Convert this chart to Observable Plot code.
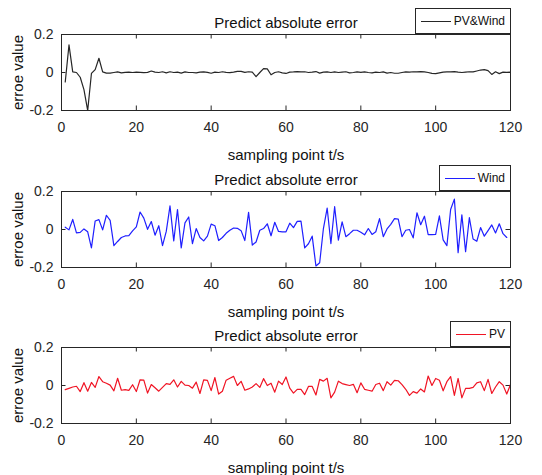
<!DOCTYPE html>
<html>
<head>
<meta charset="utf-8">
<script src="https://cdn.jsdelivr.net/npm/d3@7"></script>
<script src="https://cdn.jsdelivr.net/npm/@observablehq/plot@0.6"></script>
<style>
  html, body { margin: 0; padding: 0; background: #fff; }
  #root { position: relative; width: 542px; height: 475px; background: #fff; overflow: hidden;
          font-family: "Liberation Sans", Arial, Helvetica, sans-serif; }
  #root svg { position: absolute; left: 0; }
  .legend { position: absolute; box-sizing: border-box; height: 26px; border: 1px solid #262626; background: #fff;
            display: flex; align-items: center; padding: 0 5px 0 5px; font-size: 12px; color: #111; }
  .legend .swatch { width: 30px; height: 0; margin-right: 3px; }
</style>
</head>
<body>
<div id="root"></div>
<script>
// ---- data ----
const seriesNames = ["PV&Wind", "Wind", "PV"];
const seriesColors = ["#262626", "#1f1fff", "#f01424"];

const pvWind = [
 -0.05, 0.145, 0.003, 0.0, -0.025, -0.09, -0.2, -0.005, 0.015, 0.075,
 0.003, -0.003, -0.003, 0.0, 0.003, -0.002, 0.001, 0.002, 0.0, 0.002,
 0.001, -0.001, 0.001, 0.008, 0.002, 0.0, 0.004, -0.002, 0.004, 0.0,
 0.002, -0.003, 0.003, 0.0, 0.0, -0.002, 0.002, 0.003, 0.001, -0.004,
 0.002, 0.0, 0.004, 0.001, -0.001, 0.002, 0.006, 0.006, 0.001, 0.004,
 0.002, -0.022, 0.0, 0.02, 0.019, -0.012, 0.0, 0.004, -0.002, -0.005,
 0.002, 0.003, 0.005, 0.003, 0.004, 0.0, 0.002, 0.005, -0.003, 0.002,
 0.003, 0.0, 0.003, 0.0, 0.002, 0.004, -0.002, 0.0, 0.003, 0.001,
 0.003, 0.0, -0.002, 0.002, 0.0, 0.003, -0.003, 0.0, -0.004, -0.004,
 0.0, 0.003, 0.002, 0.004, 0.003, 0.005, 0.003, 0.0, -0.005, -0.006,
 -0.002, 0.002, 0.003, 0.003, 0.005, 0.002, 0.0, 0.002, 0.004, 0.003,
 0.008, 0.013, 0.015, 0.01, -0.01, 0.004, -0.006, 0.002, 0.001, 0.002
];

const wind = [
 0.012, -0.002, 0.053, -0.018, -0.015, 0.003, -0.012, -0.097, 0.045, 0.052,
 -0.002, 0.075, 0.048, -0.085, -0.063, -0.042, -0.034, -0.032, -0.007, 0.014,
 0.092, 0.06, 0.001, 0.042, -0.03, 0.02, -0.085, -0.01, 0.124, -0.06,
 0.105, -0.097, 0.035, 0.066, -0.074, 0.005, -0.042, -0.06, -0.035, 0.028,
 0.02, -0.058, -0.042, -0.02, -0.004, 0.008, 0.006, -0.006, -0.058, 0.09,
 -0.082, -0.066, -0.004, 0.005, 0.03, -0.033, 0.038, -0.01, -0.012, -0.012,
 0.033, 0.01, 0.043, 0.044, -0.097, -0.075, -0.035, -0.192, -0.175, 0.005,
 0.113, -0.074, 0.12, -0.056, 0.04, -0.038, -0.022, -0.004, -0.004, -0.015,
 -0.028, 0.005, -0.026, -0.012, 0.057, -0.038, 0.003, 0.027, 0.057, 0.055,
 -0.038, -0.004, 0.0, -0.044, 0.088, 0.025, 0.07, -0.027, -0.027, -0.026,
 0.072, -0.055, -0.085, 0.105, 0.16, -0.122, 0.077, -0.117, 0.062, -0.05,
 -0.062, 0.01, -0.035, -0.006, 0.024, -0.018, 0.03, -0.022, -0.042
];

const pv = [
 -0.022, -0.015, -0.008, -0.004, -0.032, 0.015, -0.03, 0.016, -0.01, 0.047,
 0.02, 0.012, 0.002, -0.028, 0.038, -0.025, -0.022, -0.026, 0.004, -0.032,
 0.03, 0.028, -0.04, 0.005, -0.012, -0.03, -0.01, 0.01, 0.006, 0.03,
 -0.008, 0.022, 0.002, 0.0, -0.014, 0.018, -0.042, 0.03, 0.027, -0.027,
 0.042, -0.045, -0.03, 0.028, 0.038, 0.048, 0.0, 0.022, -0.025, -0.018,
 -0.008, 0.01, -0.01, 0.036, 0.0, 0.012, -0.035, 0.023, 0.005, 0.045,
 -0.014, -0.04, -0.02, -0.02, -0.048, -0.005, -0.005, -0.05, 0.032, 0.023,
 0.038, -0.065, -0.035, 0.023, 0.01, 0.005, 0.0, 0.006, -0.038, 0.014,
 -0.02, -0.025, -0.03, 0.005, 0.012, -0.027, 0.02, 0.002, 0.027, 0.025,
 0.005, -0.02, -0.052, -0.032, -0.04, -0.018, -0.034, 0.05, 0.0, 0.037,
 0.028, -0.028, 0.02, 0.047, -0.052, 0.037, -0.065, -0.015, -0.015, -0.01,
 0.014, 0.02, -0.027, 0.032, -0.042, -0.008, 0.02, 0.002, -0.045, 0.005
];

const xTicks = [0, 20, 40, 60, 80, 100, 120];
const yTicks = [-0.2, 0, 0.2];
const titleText = "Predict absolute error";
const xLabel = "sampling point t/s";
const yLabel = "erroe value";

// ---- layout ----
const W = 542, ML = 61, MR = 32, MT = 34, FH = 76;
const FW = W - ML - MR;
const frameTops = [34, 191, 347];
const bottomMargins = [47, 48, 52];
const seriesData = [pvWind, wind, pv];
const axisColor = "#262626";
const TL = 4.5;
const FONT = '"Liberation Sans", Arial, Helvetica, sans-serif';

const root = document.getElementById("root");

function panel(values, color, mb) {
  return Plot.plot({
    width: W,
    height: MT + FH + mb,
    marginLeft: ML, marginRight: MR, marginTop: MT, marginBottom: mb,
    style: {background: "none", overflow: "visible", fontFamily: FONT, fontSize: "14px", color: axisColor},
    x: {domain: [0, 120]},
    y: {domain: [-0.2, 0.2]},
    marks: [
      Plot.axisX(xTicks, {tickSize: 0, tickPadding: 12, tickFormat: d => String(d), label: null, fontSize: 14, fill: axisColor}),
      Plot.axisY(yTicks, {tickSize: 0, tickPadding: 8, tickFormat: d => (d === 0 ? "0" : String(d)), label: null, fontSize: 14, fill: axisColor}),
      Plot.tickX(xTicks, {x: d => d, insetTop: FH - TL, stroke: axisColor}),
      Plot.tickX(xTicks, {x: d => d, insetBottom: FH - TL, stroke: axisColor}),
      Plot.tickY(yTicks, {y: d => d, insetRight: FW - TL, stroke: axisColor}),
      Plot.tickY(yTicks, {y: d => d, insetLeft: FW - TL, stroke: axisColor}),
      Plot.line(values, {x: (d, i) => i + 1, y: d => d, stroke: color, strokeWidth: 1.2, clip: true}),
      Plot.frame({stroke: axisColor}),
      Plot.text([titleText], {text: d => d, frameAnchor: "top", lineAnchor: "middle", textAnchor: "middle", dy: -11.5, fontSize: 15, fill: "#111"}),
      Plot.text([xLabel], {text: d => d, frameAnchor: "bottom", lineAnchor: "middle", textAnchor: "middle", dy: 45, fontSize: 15, fill: "#111"}),
      Plot.text([yLabel], {text: d => d, frameAnchor: "left", lineAnchor: "middle", textAnchor: "middle", dx: -43, rotate: -90, fontSize: 15, fill: "#111"})
    ]
  });
}

seriesData.forEach((vals, k) => {
  const svg = panel(vals, seriesColors[k], bottomMargins[k]);
  svg.style.top = (frameTops[k] - MT) + "px";
  root.appendChild(svg);
});

seriesNames.forEach((name, k) => {
  const box = document.createElement("div");
  box.className = "legend";
  box.style.right = (MR - 1) + "px";
  box.style.top = (frameTops[k] - 26) + "px";
  const sw = document.createElement("span");
  sw.className = "swatch";
  sw.style.borderTop = "1.2px solid " + seriesColors[k];
  const tx = document.createElement("span");
  tx.textContent = name;
  box.appendChild(sw);
  box.appendChild(tx);
  root.appendChild(box);
});
</script>
</body>
</html>
